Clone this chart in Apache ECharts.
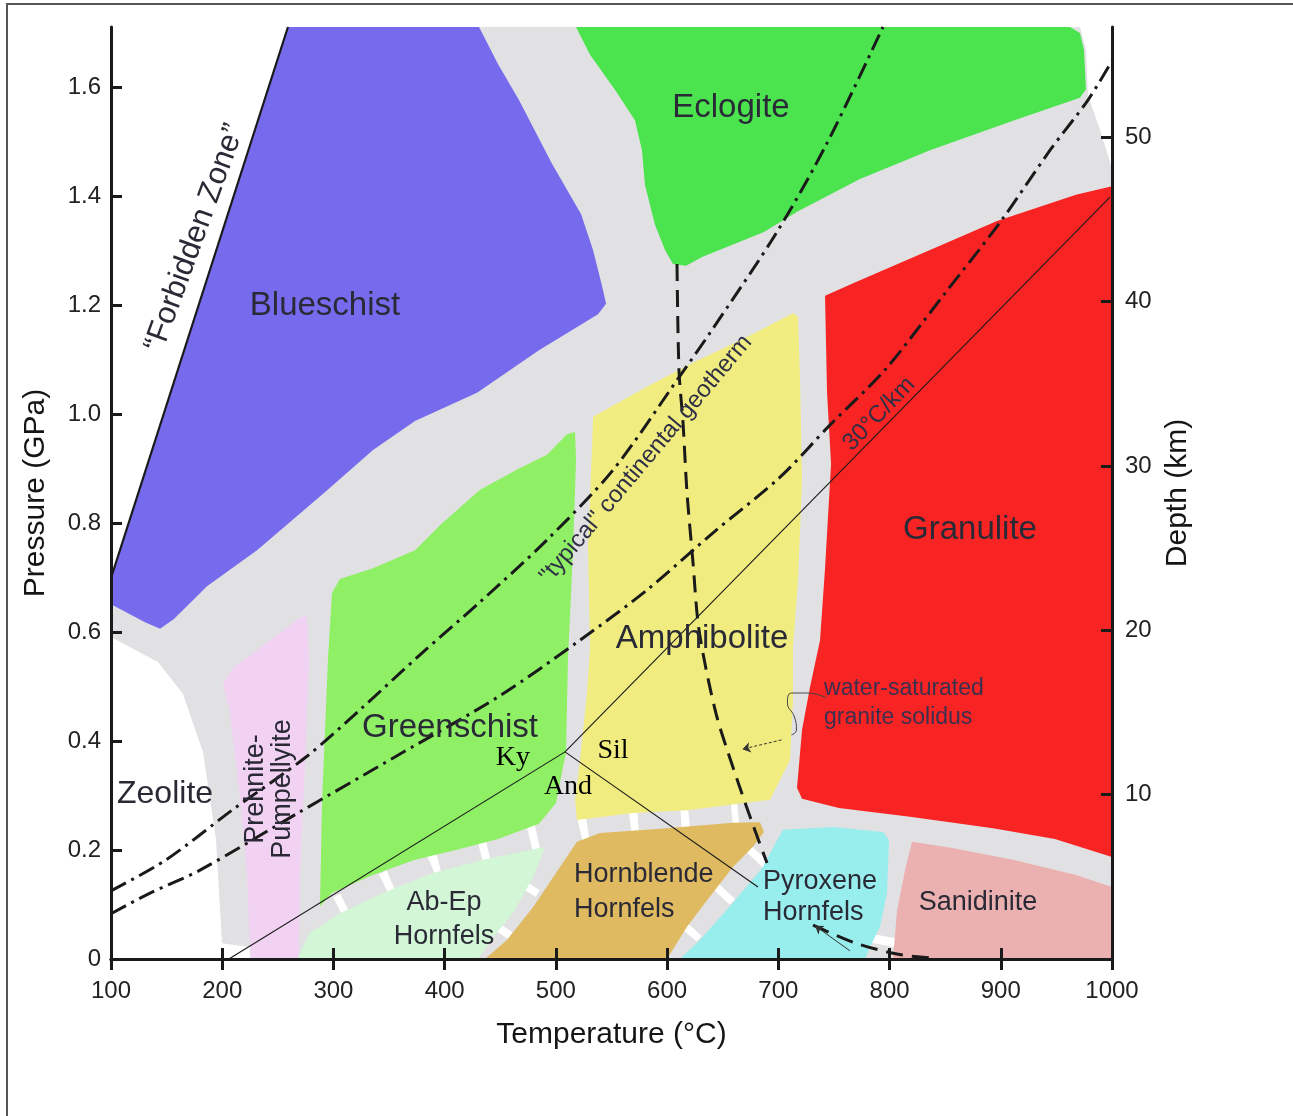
<!DOCTYPE html>
<html><head><meta charset="utf-8">
<script src="https://cdn.jsdelivr.net/npm/echarts@6/dist/echarts.min.js"></script>
<style>html,body{margin:0;padding:0;background:#fff}#c{width:1293px;height:1116px}</style>
</head><body><div id="c"></div>
<script>
// ---- axes ----
const tempMin = 100, tempMax = 1000, tempStep = 100;
const presMin = 0, presMax = 1.71, presStep = 0.2;
const depthMin = 0, depthMax = 56.7, depthStep = 10;

// ---- facies regions: [Temperature °C, Pressure GPa] ----
const plotArea = [[100,0],[1000,0],[1000,1.71],[100,1.71]];
const forbiddenZone = [[100,0.699],[259.1,1.71],[100,1.71]];
const zeoliteField = [[100,0.591],[111.7,0.578],[142.3,0.545],[164.7,0.486],[182.7,0.380],[194.4,0.220],[199.8,0.029],[225.0,0.022],[225.0,0],[100,0]];
const topRightGap = [[971.2,1.71],[1000,1.71],[1000,1.451],[989.2,1.521],[978.4,1.585],[976.6,1.668]];
const blueschist = [[259.1,1.71],[430.9,1.71],[447.9,1.642],[466.8,1.576],[496.5,1.459],[522.6,1.367],[533.4,1.301],[541.5,1.235],[545.1,1.202],[537.9,1.183],[484.8,1.117],[429.1,1.039],[373.3,0.987],[335.6,0.934],[291.5,0.855],[231.3,0.750],[186.3,0.684],[156.6,0.624],[144.1,0.606],[130.6,0.618],[100,0.651],[100,0.699]];
const eclogite = [[518.1,1.71],[962.2,1.71],[971.2,1.699],[974.8,1.668],[976.6,1.596],[971.2,1.580],[911.0,1.538],[836.4,1.484],[773.4,1.431],[717.7,1.372],[687.1,1.334],[631.4,1.288],[617.0,1.272],[605.3,1.275],[598.1,1.301],[589.1,1.347],[580.1,1.420],[577.4,1.484],[571.1,1.539],[553.1,1.595],[530.7,1.659]];
const amphibolite = [[533.4,0.995],[581.9,1.050],[623.3,1.094],[671.8,1.141],[713.2,1.185],[717.7,1.178],[719.5,1.062],[721.3,0.879],[717.7,0.695],[713.2,0.572],[713.2,0.475],[710.5,0.365],[692.5,0.292],[617.9,0.273],[569.3,0.268],[519.0,0.255],[517.2,0.292],[521.7,0.365],[528.0,0.488],[530.7,0.572],[528.9,0.756],[532.5,0.939]];
const granulite = [[742.0,1.217],[769.8,1.242],[836.4,1.301],[896.6,1.354],[967.6,1.402],[1000,1.418],[1000,0.187],[948.7,0.220],[893.0,0.240],[818.4,0.261],[754.5,0.277],[721.3,0.294],[716.8,0.314],[721.3,0.420],[728.5,0.499],[737.5,0.585],[742.0,0.717],[747.4,0.908],[743.8,1.039]];
const greenschist = [[298.7,0.672],[305.9,0.697],[335.6,0.717],[373.3,0.750],[395.8,0.796],[431.8,0.861],[467.7,0.901],[492.0,0.925],[510.0,0.963],[517.2,0.967],[518.1,0.916],[515.4,0.750],[510.9,0.552],[509.1,0.380],[500.1,0.286],[484.8,0.248],[448.0,0.220],[410.2,0.200],[373.3,0.182],[335.6,0.154],[298.7,0.121],[287.9,0.097],[289.7,0.286],[295.1,0.552]];
const prehnitePumpellyite = [[276.2,0.631],[278.0,0.549],[274.4,0.352],[269.9,0.154],[269.0,0],[225.9,0],[224.1,0.055],[222.3,0.158],[216.0,0.292],[207.0,0.451],[200.7,0.506],[209.7,0.534],[243.0,0.585],[269.9,0.626]];
const abEpHornfels = [[267.2,0],[278.9,0.048],[305.9,0.084],[344.6,0.121],[389.5,0.158],[434.5,0.182],[467.7,0.196],[490.2,0.206],[479.4,0.150],[461.4,0.084],[445.3,0.044],[430.0,0]];
const hornblendeHornfels = [[519.0,0.215],[539.7,0.231],[599.9,0.240],[659.2,0.250],[683.5,0.251],[687.1,0.233],[677.2,0.206],[659.2,0.169],[635.9,0.108],[617.9,0.059],[599.9,0],[436.3,0],[456.0,0.035],[479.4,0.095],[503.7,0.169]];
const pyroxeneHornfels = [[704.2,0.237],[749.2,0.242],[794.1,0.233],[799.5,0.218],[797.7,0.121],[791.4,0.059],[782.4,0.022],[777.9,0],[611.6,0],[629.6,0.035],[659.2,0.103],[686.2,0.169],[698.8,0.218]];
const sanidinite = [[820.2,0.215],[855.2,0.204],[911.0,0.182],[967.6,0.154],[1000,0.132],[1000,0],[803.1,0],[806.7,0.088],[813.9,0.163]];

// ---- white dashed boundaries of the contact facies (centre lines) ----
const contactBandA = [[305.0,0.092],[350.8,0.139],[393.1,0.176],[438.1,0.200],[483.0,0.222],[526.2,0.242],[572.9,0.255],[617.9,0.261],[663.7,0.270]];
const contactBandB = [[475.8,0.139],[449.7,0.057],[437.2,0.017]];
const contactBandC = [[683.5,0.193],[650.2,0.121],[617.9,0.048],[604.4,0.013]];
const contactBandD = [[795.0,0.042],[791.4,0.002]];

// ---- lines ----
const forbiddenLine = [[100,0.699],[259.1,1.71]];
const typicalGeotherm = [[100,0.125],[149.5,0.182],[208.8,0.273],[276.2,0.372],[324.8,0.459],[377.8,0.558],[431.8,0.655],[492.0,0.769],[551.3,0.897],[611.6,1.070],[638.6,1.149],[698.8,1.334],[743.8,1.497],[794.1,1.71]];
const geotherm30 = [[100,0.083],[135.1,0.121],[180.0,0.163],[269.9,0.270],[359.8,0.376],[449.7,0.483],[521.7,0.585],[581.9,0.677],[641.3,0.782],[701.5,0.884],[746.5,0.980],[795.9,1.081],[848.1,1.217],[900.2,1.354],[944.3,1.484],[978.4,1.576],[1000,1.648]];
const kyAndLine = [[206,0],[508.2,0.380]];
const kySilLine = [[508.2,0.380],[998.2,1.398]];
const andSilLine = [[508.2,0.380],[681.7,0.132]];
const solidusUpper = [[608.9,1.275],[610.7,1.079],[614.3,0.984],[617.9,0.855],[623.3,0.727],[627.8,0.617],[635.0,0.532],[644.8,0.444],[653.8,0.385],[665.5,0.314],[677.2,0.246],[689.8,0.176]];
const solidusLower = [[731.2,0.062],[769.8,0.029],[806.7,0.009],[836.4,0.002]];
const solidusLeader = [[743.2,0.479],[726.2,0.488],[711.8,0.488],[708.2,0.470],[714.5,0.444],[716.3,0.420],[711.8,0.411]];
const solidusArrow = [[702.8,0.402],[667.7,0.385]];
const pyroxeneArrow = [[764.4,0.015],[733.0,0.061]];

// ---- text labels ----
const labelTexts = ['Blueschist','Eclogite','Granulite','Amphibolite','Greenschist','Zeolite','Prehnite-\nPumpellyite','Ab-Ep\nHornfels','Hornblende\nHornfels','Pyroxene\nHornfels','Sanidinite','water-saturated\ngranite solidus','Ky','And','Sil','\u201cForbidden Zone\u201d','"typical" continental geotherm','30\u00b0C/km'];
const labelPoints = [[292.4,1.198],[657.4,1.561],[872.3,0.787],[631.4,0.587],[404.8,0.424],[148.6,0.303],[242.1,0.312],[399.4,0.073],[516.3,0.123],[686.2,0.114],[879.5,0.103],[741.1,0.470],[461.4,0.369],[510.9,0.317],[551.3,0.383],[175.5,1.323],[581.0,0.917],[790.5,1.000]];

// ---- styles (kept apart from data) ----
const SANS = '"Liberation Sans", Arial, Helvetica, sans-serif';
const SERIF = '"Liberation Serif", "Times New Roman", serif';
const labelStyles = [
  {size:33},{size:33},{size:33},{size:33},{size:33},{size:32},
  {size:27, rot:90, lh:27},
  {size:27, lh:34},
  {size:27, lh:35, align:'left'},
  {size:27, lh:31, align:'left'},
  {size:27},
  {size:23, lh:29, align:'left', color:'#3b3050'},
  {size:28, serif:true, color:'#000'},{size:28, serif:true, color:'#000'},{size:28, serif:true, color:'#000'},
  {size:31, rot:70},
  {size:24, rot:50, color:'#2f2f45'},
  {size:24, rot:46, color:'#2f2f45'}
];

function polygon(pts, color, z) {
  return {
    type:'custom', coordinateSystem:'cartesian2d', data: pts, z: z, silent:true, animation:false,
    renderItem: function (params, api) {
      if (params.dataIndex !== 0) return null;
      return {type:'polygon', shape:{points: pts.map(function(p){return api.coord(p);})}, style:{fill: color}};
    }
  };
}
function line(pts, opts, z) {
  return {
    type:'line', data: pts, z: z || 5, silent:true, animation:false, symbol:'none', showSymbol:false,
    smooth: opts.smooth || false,
    lineStyle: {color: opts.color || '#1a1a1a', width: opts.width || 1, type: opts.type || 'solid', cap: opts.cap || 'butt'}
  };
}
function arrow(pts, dotted) {
  return {
    type:'lines', coordinateSystem:'cartesian2d', z:6, silent:true, animation:false,
    symbol:['none','arrow'], symbolSize:[0,8],
    lineStyle:{color:'#333', width:1, type: dotted ? [3,2] : 'solid', opacity:1, curveness:0},
    data:[{coords: pts}]
  };
}

const series = [
  polygon(plotArea, '#e1e1e3', 1),
  polygon(forbiddenZone, '#ffffff', 2),
  polygon(zeoliteField, '#ffffff', 2),
  polygon(topRightGap, '#ffffff', 2),
  line(contactBandA, {color:'#ffffff', width:26, type:[8,43]}, 3),
  line(contactBandB, {color:'#ffffff', width:26, type:[8,42]}, 3),
  line(contactBandC, {color:'#ffffff', width:26, type:[8,42]}, 3),
  line(contactBandD, {color:'#ffffff', width:26, type:[9,60]}, 3),
  polygon(blueschist, '#766bec', 4),
  polygon(eclogite, '#4be34e', 4),
  polygon(amphibolite, '#f0ec7f', 4),
  polygon(granulite, '#f82323', 4),
  polygon(greenschist, '#8ff065', 4),
  polygon(prehnitePumpellyite, '#f2d2f3', 4),
  polygon(abEpHornfels, '#d3f6d6', 4),
  polygon(hornblendeHornfels, '#dfba60', 4),
  polygon(pyroxeneHornfels, '#98eded', 4),
  polygon(sanidinite, '#ebb0b0', 4),
  line(forbiddenLine, {width:2.2}),
  line(kyAndLine, {width:1.1}),
  line(kySilLine, {width:1.1}),
  line(andSilLine, {width:1.1}),
  line(typicalGeotherm, {width:3, type:[17,6,3,6], smooth:0.3}),
  line(geotherm30, {width:3, type:[17,6,3,6], smooth:0.3}),
  line(solidusUpper, {width:3, type:[17,9], smooth:0.3}),
  line(solidusLower, {width:3, type:[17,9], smooth:0.3}),
  line(solidusLeader, {width:1, color:'#444', smooth:0.5}, 6),
  arrow(solidusArrow, true),
  arrow(pyroxeneArrow, false),
  {
    type:'custom', coordinateSystem:'cartesian2d', data: labelPoints, z:8, silent:true, animation:false,
    renderItem: function (params, api) {
      const i = params.dataIndex;
      const c = api.coord(labelPoints[i]);
      const s = labelStyles[i];
      return {
        type:'text', x:c[0], y:c[1], rotation:(s.rot || 0) * Math.PI / 180,
        style:{
          text: labelTexts[i], fontSize: s.size, fontFamily: s.serif ? SERIF : SANS,
          fill: s.color || '#2a2a36', align: s.align || 'center', verticalAlign:'middle',
          lineHeight: s.lh || Math.round(s.size * 1.15)
        }
      };
    }
  }
];

const axisLine = {lineStyle:{color:'#1a1a1a', width:3}};
const tick = {inside:true, length:11, lineStyle:{color:'#1a1a1a', width:3}};
const tickFont = {fontSize:24, color:'#222', fontFamily:SANS};
const nameFont = {fontSize:30, color:'#151515', fontFamily:SANS};

const option = {
  backgroundColor:'#ffffff',
  animation:false,
  grid:{left:111, right:181, top:27, bottom:157, containLabel:false},
  graphic:[{type:'rect', shape:{x:7, y:4, width:1320, height:1140}, style:{fill:'none', stroke:'#555', lineWidth:2}, z:-10, silent:true}],
  xAxis:[
    {type:'value', position:'bottom', min:tempMin, max:tempMax, interval:tempStep, z:10,
     axisLine:axisLine, axisTick:tick, splitLine:{show:false},
     axisLabel:Object.assign({margin:20, formatter:function(v){ return String(v); }}, tickFont),
     name:'Temperature (\u00b0C)', nameLocation:'middle', nameGap:61, nameTextStyle:nameFont},
    {type:'value', position:'top', min:tempMin, max:tempMax, interval:tempStep, z:10,
     axisLine:axisLine, axisTick:tick, splitLine:{show:false}, axisLabel:{show:false}}
  ],
  yAxis:[
    {type:'value', position:'left', min:presMin, max:presMax, interval:presStep, z:10,
     axisLine:axisLine, axisTick:tick, splitLine:{show:false},
     axisLabel:Object.assign({margin:10, showMaxLabel:false, formatter:function(v){
       if (Math.abs(v) < 1e-9) return '0';
       const k = v / presStep; if (Math.abs(k - Math.round(k)) > 1e-6) return '';
       return v.toFixed(1);
     }}, tickFont),
     name:'Pressure (GPa)', nameLocation:'middle', nameGap:60, nameRotate:90, nameTextStyle:nameFont},
    {type:'value', position:'right', min:depthMin, max:depthMax, interval:depthStep, z:10,
     axisLine:axisLine, axisTick:tick, splitLine:{show:false},
     axisLabel:Object.assign({margin:13, showMinLabel:false, showMaxLabel:false, formatter:function(v){
       return (v > 0 && Math.abs(v % depthStep) < 1e-9) ? String(v) : '';
     }}, tickFont),
     name:'Depth (km)', nameLocation:'middle', nameGap:41, nameRotate:90, nameTextStyle:nameFont}
  ],
  series: series
};

const chart = echarts.init(document.getElementById('c'), null, {renderer:'canvas'});
chart.setOption(option);
</script>
</body></html>
